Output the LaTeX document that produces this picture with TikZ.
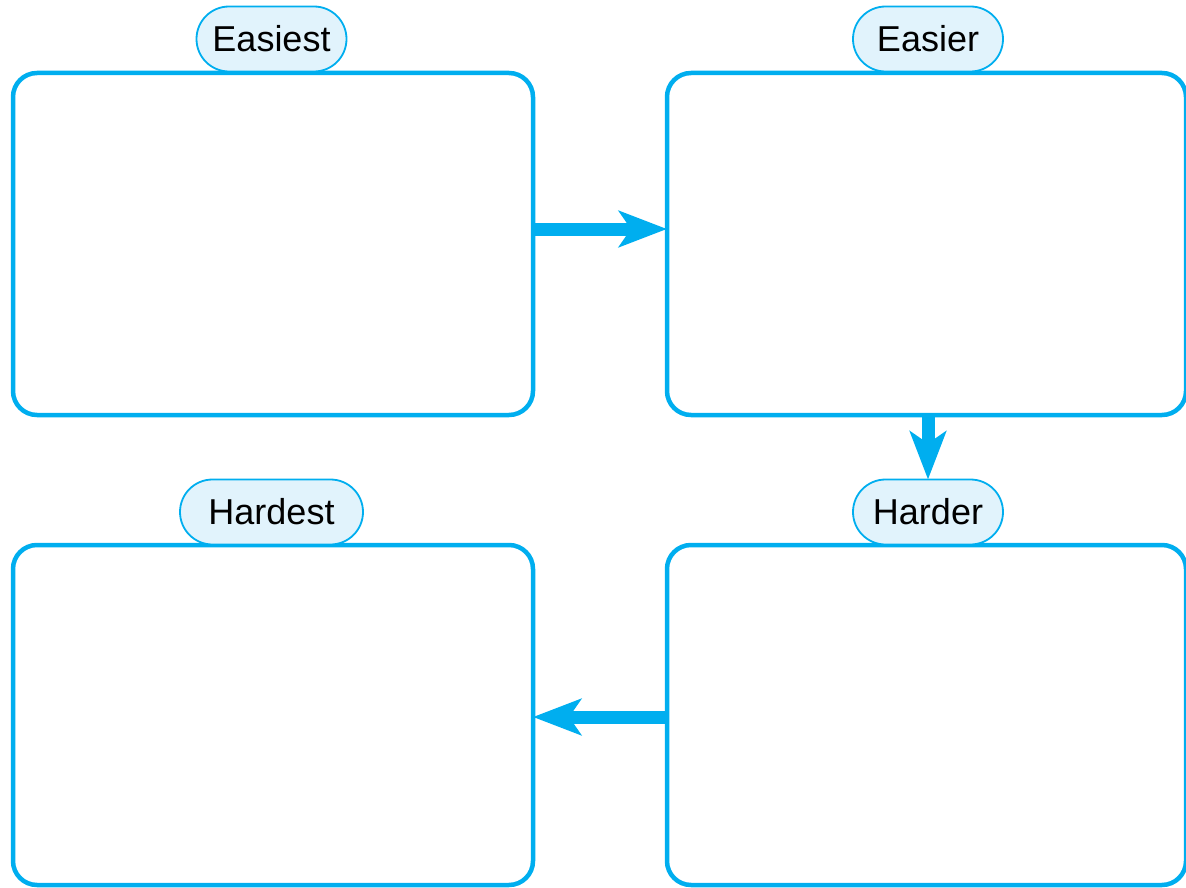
\documentclass[tikz,border=0pt]{standalone}
\usepackage{fontspec}
\setmainfont{Liberation Sans}
\usetikzlibrary{arrows.meta,positioning,shapes.misc}
\definecolor{skyblue}{HTML}{00AEEF}
\definecolor{tagfill}{HTML}{E1F3FC}
\tikzset{
  panel/.style={draw=skyblue, line width=4.5pt, rounded corners=24pt, outer sep=0pt, inner sep=0pt},
  tag/.style={rounded rectangle, draw=skyblue, fill=tagfill, line width=1.8pt, minimum width=150pt,
    minimum height=65pt, inner sep=0pt, outer sep=0pt, font=\fontsize{36pt}{40pt}\selectfont},
  flow/.style={draw=skyblue, line width=13pt, -{Stealth[length=48pt,width=36pt,inset=12pt]}}
}
\begin{document}
\begin{tikzpicture}[x=1pt,y=-1pt]
      \useasboundingbox (0,0) rectangle (1186,888);
      % the four panels
      \node[panel, minimum width=520pt, minimum height=342pt] (easiest) at (273,244) {};
      \node[panel, minimum width=519pt, minimum height=342pt] (easier) at (926.5,244) {};
      \node[panel, minimum width=520pt, minimum height=340pt] (hardest) at (273,715) {};
      \node[panel, minimum width=519pt, minimum height=340pt] (harder) at (926.5,715) {};
      % labels on top
      \node[tag] (easiesttag) at (271.5,39) {Easiest};
      \node[tag] (easiertag) at (928,39) {Easier};
      \node[tag, minimum width=183pt] (hardesttag) at (271.5,512) {Hardest};
      \node[tag] (hardertag) at (928,512) {Harder};
      % arrows
      \draw[flow] (easiest.east |- 0,229) -- (easier.west |- 0,229);
      \draw[flow] (easier.south -| hardertag) -- (hardertag.north);
      \draw[flow] (harder.west |- 0,717) -- (hardest.east |- 0,717);
\end{tikzpicture}
\end{document}
